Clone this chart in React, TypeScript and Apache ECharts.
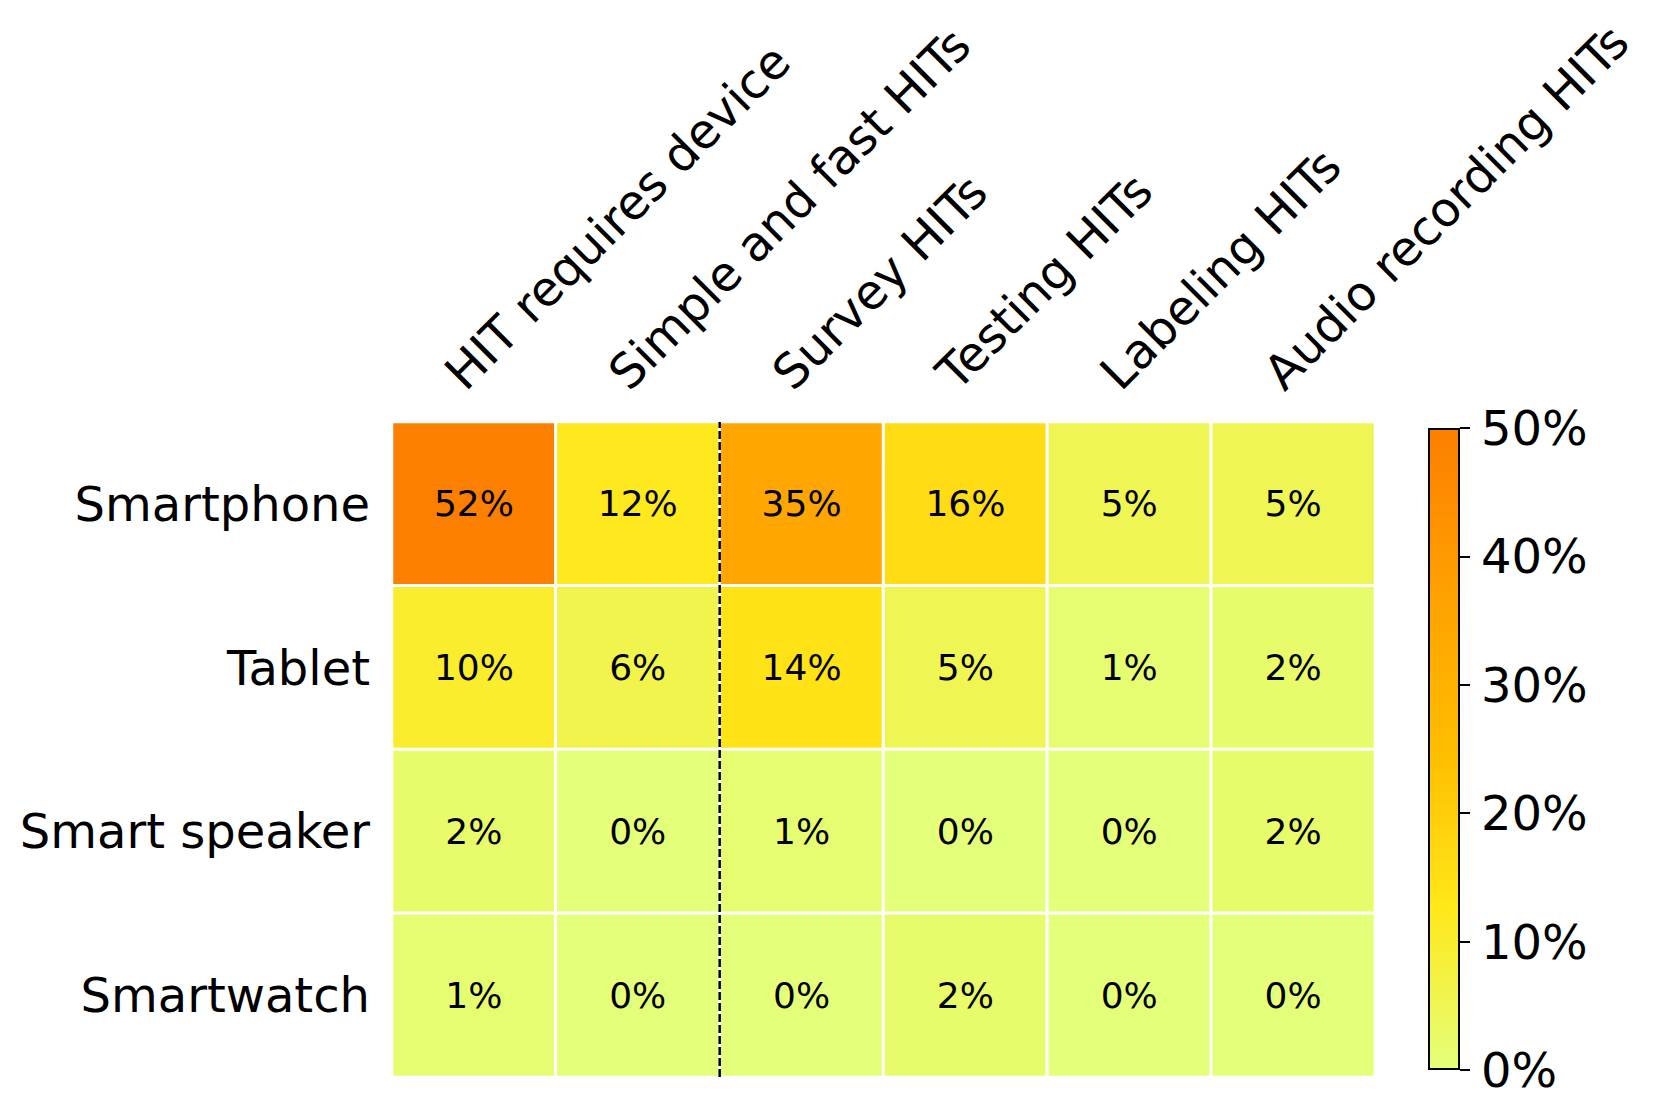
import React, { useEffect, useRef } from "react";
import * as echarts from "echarts";

const hitTypes = [
  "HIT requires device",
  "Simple and fast HITs",
  "Survey HITs",
  "Testing HITs",
  "Labeling HITs",
  "Audio recording HITs",
];
const devices = ["Smartphone", "Tablet", "Smart speaker", "Smartwatch"];

const smartphone = [52, 12, 35, 16, 5, 5];
const tablet = [10, 6, 14, 5, 1, 2];
const smartSpeaker = [2, 0, 1, 0, 0, 2];
const smartwatch = [1, 0, 0, 2, 0, 0];

const colorMin = 0;
const colorMax = 50;
const colorStep = 10;
const dividerAt = 1.5; // between "Simple and fast HITs" and "Survey HITs"

const wistia = ["#e4ff7a", "#ffe81a", "#ffbd00", "#ffa000", "#fc7f00"];

const FONT = "DejaVu Sans";

export default function App() {
  const ref = useRef<HTMLDivElement>(null);

  useEffect(() => {
    if (!ref.current) return;
    const chart = echarts.init(ref.current, undefined, { renderer: "svg" });
    const rows = [smartphone, tablet, smartSpeaker, smartwatch];
    const data: number[][] = [];
    rows.forEach((row, y) => row.forEach((v, x) => data.push([x, y, v])));

    const stops = wistia.map((c, i) => ({ offset: i / (wistia.length - 1), color: c }));

    chart.setOption({
      animation: false,
      backgroundColor: "#fff",
      grid: [
        { left: 392, top: 422, width: 983, height: 655 },
        { left: 1428, top: 428, width: 32, height: 642 },
      ],
      xAxis: [
        {
          type: "category",
          data: hitTypes,
          gridIndex: 0,
          position: "top",
          axisLine: { show: false },
          axisTick: { show: true, alignWithLabel: true, length: 10, lineStyle: { color: "#000", width: 2 } },
          splitLine: { show: false },
          axisLabel: {
            interval: 0,
            rotate: 45,
            align: "left",
            verticalAlign: "bottom",
            padding: [0, 0, 5, 0],
            margin: 21,
            fontFamily: FONT,
            fontSize: 48,
            color: "#000",
          },
        },
        { type: "value", gridIndex: 0, min: -0.5, max: 5.5, show: false },
        { type: "category", gridIndex: 1, data: ["cb"], show: false },
      ],
      yAxis: [
        {
          type: "category",
          data: devices,
          gridIndex: 0,
          inverse: true,
          axisLine: { show: false },
          axisTick: { show: true, alignWithLabel: true, length: 10, lineStyle: { color: "#000", width: 2 } },
          splitLine: { show: false },
          axisLabel: { margin: 22, fontFamily: FONT, fontSize: 48, color: "#000" },
        },
        { type: "value", gridIndex: 0, min: -0.5, max: 3.5, show: false },
        {
          type: "value",
          gridIndex: 1,
          min: colorMin,
          max: colorMax,
          interval: colorStep,
          position: "right",
          axisLine: { show: false },
          splitLine: { show: false },
          axisTick: { show: true, length: 10, lineStyle: { color: "#000", width: 2 } },
          axisLabel: {
            margin: 21,
            fontFamily: FONT,
            fontSize: 48,
            color: "#000",
            formatter: "{value}%",
          },
        },
      ],
      visualMap: {
        type: "continuous",
        show: false,
        min: colorMin,
        max: colorMax,
        seriesIndex: 0,
        dimension: 2,
        inRange: { color: wistia },
        outOfRange: { color: [wistia[wistia.length - 1]] },
      },
      series: [
        {
          type: "heatmap",
          xAxisIndex: 0,
          yAxisIndex: 0,
          data,
          itemStyle: { borderColor: "#fff", borderWidth: 3 },
          label: {
            show: true,
            fontFamily: FONT,
            fontSize: 36,
            color: "#000",
            formatter: (p: any) => `${p.value[2]}%`,
          },
          emphasis: { disabled: true },
        },
        {
          type: "line",
          xAxisIndex: 1,
          yAxisIndex: 1,
          data: [
            [dividerAt, -0.5],
            [dividerAt, 3.5],
          ],
          symbol: "none",
          clip: false,
          lineStyle: { color: "#000", width: 2.5, type: [8, 3] },
          z: 5,
          silent: true,
        },
        {
          type: "bar",
          xAxisIndex: 2,
          yAxisIndex: 2,
          data: [colorMax],
          barWidth: "100%",
          silent: true,
          itemStyle: {
            color: new echarts.graphic.LinearGradient(0, 1, 0, 0, stops),
            borderColor: "#000",
            borderWidth: 2,
          },
        },
      ],
    });
    return () => chart.dispose();
  }, []);

  return (
    <div
      ref={ref}
      style={{ position: "fixed", left: 0, top: 0, width: 1661, height: 1120 }}
    />
  );
}
